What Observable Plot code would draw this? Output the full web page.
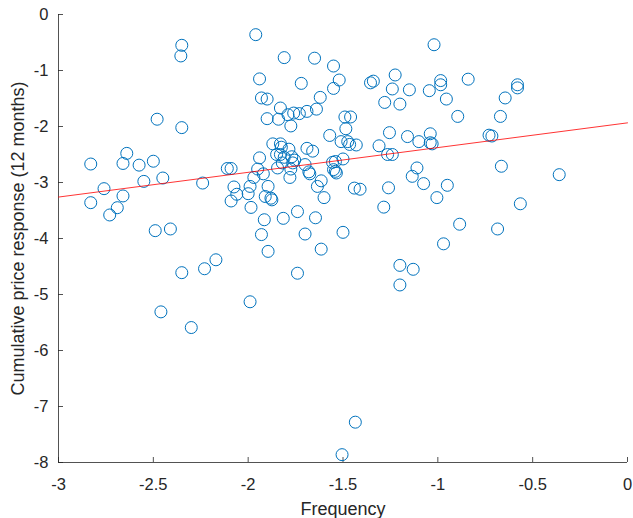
<!DOCTYPE html>
<html>
<head>
<meta charset="utf-8">
<script src="https://cdn.jsdelivr.net/npm/d3@7"></script>
<script src="https://cdn.jsdelivr.net/npm/@observablehq/plot@0.6"></script>
<style>
  html, body { margin: 0; padding: 0; background: #fff; }
  #chart svg { display: block; }
</style>
</head>
<body>
<div id="chart"></div>
<script>
// Frequency of each observation
const frequency = [
  -2.35, -2.355, -2.48, -2.35, -2.64, -2.83, -2.66, -2.575, -2.50, -2.11,
  -2.09, -2.83, -2.76, -2.55, -2.45, -2.24, -2.66, -2.69, -2.73, -2.49,
  -2.41, -2.35, -2.23, -2.17, -2.46, -2.30, -2.09, -2.075, -2.06,
  -1.96, -1.81, -1.65, -1.55, -1.94, -1.72, -1.52, -1.55, -1.62, -1.93,
  -1.90, -1.83, -1.64, -1.90, -1.84, -1.79, -1.76, -1.73, -1.69, -1.775,
  -1.49, -1.46, -1.485, -1.57, -1.51, -1.475, -1.465, -1.43, -1.31, -1.255,
  -1.16, -1.10, -1.265, -1.24, -1.355, -1.34, -1.225, -1.24, -1.15, -1.28,
  -1.20, -1.87, -1.83, -1.825, -1.785, -1.69, -1.66, -1.85, -1.83, -1.81,
  -1.94, -1.77, -1.755, -1.765, -1.82, -1.95, -1.845, -1.70, -1.555, -1.54,
  -1.50, -1.55, -1.54, -1.535, -1.775, -1.68, -1.675, -1.92, -1.97, -1.78,
  -1.615, -1.135, -1.11,
  -1.02, -0.985, -0.985, -1.045, -0.84, -0.58, -0.58, -0.955, -0.645, -0.895,
  -0.67, -1.04, -1.04, -1.03, -0.73, -0.715, -0.665, -0.36,
  -1.075, -0.95, -1.005, -0.565, -0.885, -0.685, -0.97,
  -1.99, -2.00, -1.895, -1.91, -1.88, -1.875, -1.985, -1.915, -1.815, -1.74,
  -1.645, -1.93, -1.70, -1.50, -1.895, -1.615, -1.74, -1.99, -1.20, -1.13,
  -1.20, -1.285, -1.26, -1.44, -1.41, -1.60, -1.635,
  -1.435, -1.505
];

// Cumulative price response over 12 months, same order
const response = [
  -0.55, -0.74, -1.87, -2.02, -2.48, -2.67, -2.66, -2.69, -2.62, -2.75,
  -2.75, -3.36, -3.11, -2.98, -2.92, -3.01, -3.24, -3.45, -3.58, -3.86,
  -3.83, -4.61, -4.54, -4.38, -5.31, -5.59, -3.33, -3.08, -3.21,
  -0.36, -0.77, -0.78, -0.92, -1.15, -1.23, -1.17, -1.32, -1.48, -1.49,
  -1.51, -1.67, -1.69, -1.86, -1.87, -1.79, -1.76, -1.77, -1.73, -1.99,
  -1.83, -1.83, -2.04, -2.16, -2.27, -2.27, -2.32, -2.33, -2.345, -2.11,
  -2.18, -2.27, -2.50, -2.50, -1.22, -1.19, -1.08, -1.33, -1.345, -1.57,
  -1.60, -2.31, -2.31, -2.37, -2.405, -2.39, -2.44, -2.50, -2.50, -2.55,
  -2.56, -2.54, -2.60, -2.65, -2.65, -2.76, -2.74, -2.68, -2.64, -2.625,
  -2.58, -2.77, -2.80, -2.83, -2.76, -2.81, -2.845, -2.845, -2.91, -2.91,
  -2.97, -2.89, -2.74,
  -0.54, -1.18, -1.255, -1.36, -1.155, -1.255, -1.31, -1.51, -1.49, -1.82,
  -1.82, -2.13, -2.29, -2.31, -2.155, -2.17, -2.71, -2.86,
  -3.02, -3.05, -3.27, -3.38, -3.745, -3.83, -4.095,
  -3.07, -3.20, -3.07, -3.25, -3.28, -3.31, -3.445, -3.665, -3.64, -3.52,
  -3.63, -3.93, -3.92, -3.89, -4.23, -4.19, -4.62, -5.13, -4.48, -4.55,
  -4.83, -3.44, -3.095, -3.10, -3.12, -3.27, -3.07,
  -7.28, -7.86
];

// Least-squares fit line, evaluated at the ends of the frequency axis
const fitFrequency = [-3, 0];
const fitResponse = [-3.26, -1.935];

// Tick values
const xTicks = [-3, -2.5, -2, -1.5, -1, -0.5, 0];
const yTicks = [0, -1, -2, -3, -4, -5, -6, -7, -8];

const points = frequency.map((f, i) => ({f, r: response[i]}));
const fit = fitFrequency.map((f, i) => ({f, r: fitResponse[i]}));

const ink = "#262626";
// plain hyphen-minus, as in the axis labels
const fmt = d => String(d);

const chart = Plot.plot({
  width: 633,
  height: 518,
  marginLeft: 58,
  marginRight: 6,
  marginTop: 14,
  marginBottom: 56,
  style: {fontFamily: "'Liberation Sans', Arial, sans-serif", fontSize: "16.5px", color: ink, background: "#fff"},
  x: {domain: [-3, 0]},
  y: {domain: [-8, 0]},
  marks: [
    Plot.axisX({
      ticks: xTicks, tickSize: -5, tickPadding: 21, stroke: ink, strokeWidth: 0.8,
      fill: ink, fontSize: 16.5, tickFormat: fmt, label: null
    }),
    Plot.axisY({
      ticks: yTicks, tickSize: -5, tickPadding: 15, stroke: ink, strokeWidth: 0.8,
      fill: ink, fontSize: 16.5, tickFormat: fmt, label: null
    }),
    Plot.ruleY([-8], {stroke: ink, strokeWidth: 0.8}),
    Plot.ruleX([-3], {stroke: ink, strokeWidth: 0.8}),
    Plot.dot(points, {x: "f", y: "r", r: 6, stroke: "#0072BD", strokeWidth: 1, fill: "none"}),
    Plot.line(fit, {x: "f", y: "r", stroke: "#FF0000", strokeWidth: 0.8}),
    Plot.text(["Frequency"], {
      frameAnchor: "bottom", dy: 52, fontSize: 18, fill: ink, textAnchor: "middle"
    }),
    Plot.text(["Cumulative price response (12 months)"], {
      frameAnchor: "left", dx: -40, rotate: -90, fontSize: 18, fill: ink, textAnchor: "middle"
    })
  ]
});

document.getElementById("chart").appendChild(chart);
</script>
</body>
</html>
